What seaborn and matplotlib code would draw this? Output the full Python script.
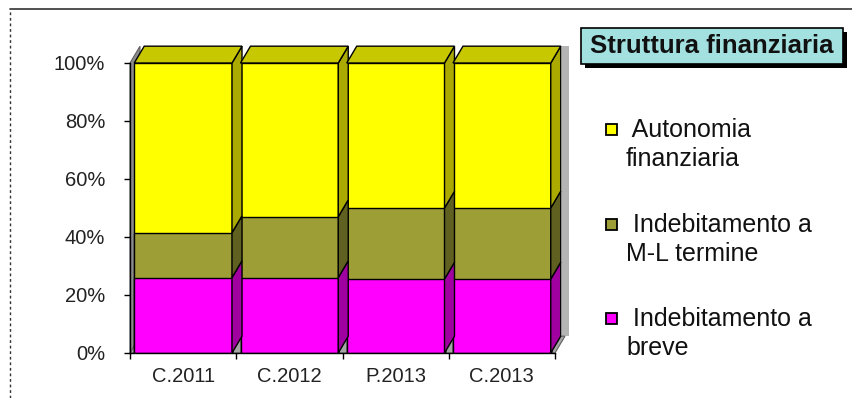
import numpy as np
import pandas as pd
import matplotlib
matplotlib.use("Agg")
import matplotlib.pyplot as plt
from matplotlib.patches import Polygon, Rectangle
from matplotlib.ticker import PercentFormatter, FixedLocator
from matplotlib.lines import Line2D
import seaborn as sns

# Financial structure by period (shares of total, percent)
periods = ["C.2011", "C.2012", "P.2013", "C.2013"]
breve = [26.0, 26.0, 25.5, 25.5]           # Indebitamento a breve
medio_lungo = [15.5, 21.0, 24.5, 24.5]     # Indebitamento a M-L termine
autonomia = [58.5, 53.0, 50.0, 50.0]       # Autonomia finanziaria

series_names = ["Autonomia\nfinanziaria", "Indebitamento a\nM-L termine", "Indebitamento a\nbreve"]
front_colors = ["#FFFF00", "#9E9E36", "#FF00FF"]
side_colors = ["#AAAA00", "#606020", "#A000A0"]
top_color = "#C8C800"

sns.set_style("white")
plt.rcParams["font.family"] = ["Liberation Sans", "DejaVu Sans"]

df = pd.DataFrame({"period": periods, "breve": breve, "ml": medio_lungo, "aut": autonomia})
df["cum_breve"] = df["breve"] / 100
df["cum_ml"] = (df["breve"] + df["ml"]) / 100
df["cum_aut"] = (df["breve"] + df["ml"] + df["aut"]) / 100

W, H = 852, 398
fig = plt.figure(figsize=(W / 100, H / 100), dpi=100)
ax = fig.add_axes([130 / W, (H - 353) / H, 425 / W, 290 / H])

bar_w = 0.92
dx = 0.094      # depth offset in x (data units)
dy = 0.058      # depth offset in y (data units)

# back walls and floor
ax.add_patch(Polygon([(-0.5, 0), (3.5, 0), (3.5 + dx, dy), (-0.5 + dx, dy)],
                     closed=True, facecolor="#A6A6A6", edgecolor="#606060", lw=0.8,
                     zorder=0.5, clip_on=False))
ax.add_patch(Polygon([(-0.5, 0), (-0.5, 1), (-0.5 + dx, 1 + dy), (-0.5 + dx, dy)],
                     closed=True, facecolor="#8C8C8C", edgecolor="#606060", lw=0.8,
                     zorder=0.5, clip_on=False))
ax.add_patch(Rectangle((3.5 + dx - 0.03, dy), 0.07, 1.0, facecolor="#B4B4B4",
                       edgecolor="none", zorder=0.4, clip_on=False))

# stacked front faces: tallest cumulative first
for col, color in zip(["cum_aut", "cum_ml", "cum_breve"], front_colors):
    sns.barplot(data=df, x="period", y=col, color=color, width=bar_w,
                edgecolor="black", linewidth=1.0, saturation=1, ax=ax, zorder=2)

# 3D side and top faces built from the same stacked values
xs = np.arange(len(periods))
levels = [np.zeros(len(periods)), df["cum_breve"].values, df["cum_ml"].values, df["cum_aut"].values]
seg_side = [side_colors[2], side_colors[1], side_colors[0]]
for i, x in enumerate(xs):
    x0 = x - bar_w / 2
    x1 = x + bar_w / 2
    for k in range(3):
        y0 = levels[k][i]
        y1 = levels[k + 1][i]
        ax.add_patch(Polygon([(x1, y0), (x1, y1), (x1 + dx, y1 + dy), (x1 + dx, y0 + dy)],
                             closed=True, facecolor=seg_side[k], edgecolor="black",
                             lw=1.0, zorder=3, clip_on=False))
    top = levels[3][i]
    ax.add_patch(Polygon([(x0, top), (x1, top), (x1 + dx, top + dy), (x0 + dx, top + dy)],
                         closed=True, facecolor=top_color, edgecolor="black",
                         lw=1.0, zorder=3, clip_on=False))

ax.set_xlim(-0.5, 3.5)
ax.set_ylim(0, 1)
ax.set_xlabel("")
ax.set_ylabel("")
ax.yaxis.set_major_locator(FixedLocator([0, 0.2, 0.4, 0.6, 0.8, 1.0]))
ax.yaxis.set_major_formatter(PercentFormatter(1.0, decimals=0))
ax.set_xticks(xs, periods)
ax.xaxis.set_minor_locator(FixedLocator([-0.5, 0.5, 1.5, 2.5, 3.5]))
ax.tick_params(axis="x", which="major", length=0, pad=10, labelsize=14.5, colors="black")
ax.tick_params(axis="x", which="minor", length=4, width=1, direction="out", color="black", bottom=True)
ax.tick_params(axis="y", length=4, width=1, direction="out", pad=14, labelsize=14.5,
               colors="black", left=True)
for lbl in ax.get_yticklabels():
    lbl.set_color("#222222")
for lbl in ax.get_xticklabels():
    lbl.set_color("#222222")
for s in ["top", "right"]:
    ax.spines[s].set_visible(False)
ax.spines["left"].set_color("black")
ax.spines["left"].set_linewidth(1.0)
ax.spines["bottom"].set_color("black")
ax.spines["bottom"].set_linewidth(1.0)
ax.patch.set_alpha(0)

# title box with drop shadow
tx0, ty0, tw, th = 581, 28, 262, 36
fig.patches.append(Rectangle(((tx0 + 4) / W, (H - ty0 - th - 4) / H), tw / W, th / H,
                             transform=fig.transFigure, facecolor="black", edgecolor="none"))
fig.patches.append(Rectangle((tx0 / W, (H - ty0 - th) / H), tw / W, th / H,
                             transform=fig.transFigure, facecolor="#A3E0E0",
                             edgecolor="black", lw=1.2))
fig.text((tx0 + tw / 2) / W, (H - ty0 - th / 2) / H, "Struttura finanziaria",
         ha="center", va="center", fontsize=18.5, fontweight="bold", color="#111111")

# legend entries
legend_rows = [130, 225, 319]
legend_colors = ["#FFFF00", "#9E9E36", "#FF00FF"]
for name, color, yc in zip(series_names, legend_colors, legend_rows):
    fig.patches.append(Rectangle((606 / W, (H - yc - 5) / H), 11 / W, 11 / H,
                                 transform=fig.transFigure, facecolor=color,
                                 edgecolor="black", lw=1.3))
    first, second = name.split("\n")
    fig.text(626 / W, (H - yc) / H, " " + first, ha="left", va="center",
             fontsize=18, color="#111111")
    fig.text(626 / W, (H - yc - 29) / H, second, ha="left", va="center",
             fontsize=18, color="#111111")

# chart frame
fig.add_artist(Line2D([10 / W, 1], [(H - 9) / H] * 2, transform=fig.transFigure,
                      color="#333333", lw=1.2))
fig.add_artist(Line2D([10 / W, 10 / W], [0, (H - 9) / H], transform=fig.transFigure,
                      color="#333333", lw=1.0, linestyle=(0, (2, 2))))

fig.savefig("out.png", dpi=100)
